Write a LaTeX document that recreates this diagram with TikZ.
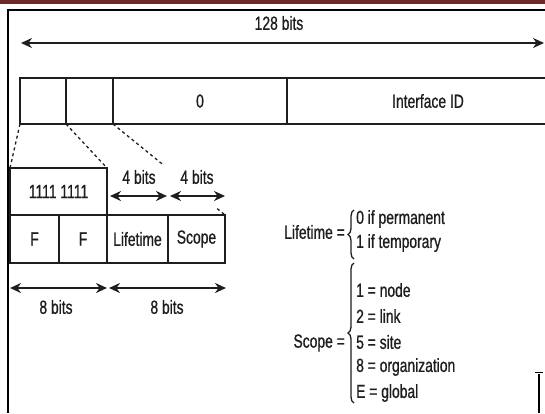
\documentclass[tikz,border=0pt]{standalone}
\usepackage{fontspec}
\setmainfont{Liberation Sans}[FakeStretch=0.73,FakeBold=0.8]
\usetikzlibrary{arrows.meta,decorations.pathreplacing,calc}
\definecolor{band}{HTML}{722828}
\definecolor{ink}{HTML}{1E1E1E}
\begin{document}
\begin{tikzpicture}[x=1pt,y=-1pt,
  txt/.style={font=\fontsize{19}{21}\selectfont, inner sep=0pt, text=ink},
  cell/.style={draw=ink, line width=1.3pt, inner sep=0pt, outer sep=0pt, anchor=north west,
               font=\fontsize{19}{21}\selectfont, text=ink},
  dim/.style={{Stealth[length=11pt,width=10pt]}-{Stealth[length=11pt,width=10pt]}, line width=1.8pt, draw=ink},
  conn/.style={draw=ink, line width=1.3pt, dash pattern=on 3pt off 3pt},
  brc/.style={draw=ink, line width=1.3pt, decorate, decoration={brace, amplitude=6pt}}]
\useasboundingbox (0,0) rectangle (545,413);
\fill[white] (0,0) rectangle (545,413);
% top band and frame
\fill[band] (0,0) rectangle (545,3.5);
\draw[line width=2pt, black] (8,413) -- (8,10) -- (545,10);
% 128 bits
\node[txt] (t128) at (279,23) {128 bits};
\coordinate (al) at (21,43);
\coordinate (ar) at (544,43);
\draw[dim] (al) -- (ar);
% address bar
\node[cell, minimum width=46pt, minimum height=46pt] (s1) at (20,78) {};
\node[cell, minimum width=47pt, minimum height=46pt] (s2) at (66,78) {};
\node[cell, minimum width=174pt, minimum height=46pt] (s0) at (113,78) {0};
\node[cell, minimum width=282pt, minimum height=46pt] (sid) at (287,78) {Interface ID};
\draw[line width=2.5pt, ink] (s1.south west) -- (sid.south east);
% expanded fields
\node[cell, minimum width=97pt, minimum height=47pt] (ones) at (10,168) {1111 1111};
\node[cell, minimum width=49pt, minimum height=48pt] (f1) at (10,215) {F};
\node[cell, minimum width=48pt, minimum height=48pt] (f2) at (59,215) {F};
\node[cell, minimum width=61pt, minimum height=48pt] (lt) at (107,215) {Lifetime};
\node[cell, minimum width=57pt, minimum height=48pt] (sc) at (168,215) {Scope};
% dashed connectors
\draw[conn] (s1.south west) -- (ones.north west);
\draw[conn] (s2.south west) -- (ones.north east);
\draw[conn] (s0.south west) -- ($(s0.south west)!0.45!(sc.north east)$);
\draw[conn] ($(s0.south west)!0.93!(sc.north east)$) -- (sc.north east);
% 4 bits
\node[txt] (b4a) at (139,177) {4 bits};
\node[txt] (b4b) at (197,177) {4 bits};
\coordinate (a4l) at (110,196);
\coordinate (a4m) at (167,196);
\coordinate (a4n) at (170,196);
\coordinate (a4r) at (225,196);
\draw[dim] (a4l) -- (a4m);
\draw[dim] (a4n) -- (a4r);
% 8 bits
\coordinate (a8l) at (10,288);
\coordinate (a8m) at (107,288);
\coordinate (a8n) at (109,288);
\coordinate (a8r) at (226,288);
\draw[dim] (a8l) -- (a8m);
\draw[dim] (a8n) -- (a8r);
\node[txt] (b8a) at (56,307) {8 bits};
\node[txt] (b8b) at (167,307) {8 bits};
% Lifetime legend
\node[txt, anchor=east] (ltl) at (345,232) {Lifetime =};
\coordinate (lb1) at (354,259);
\coordinate (lb2) at (354,210);
\draw[brc] (lb1) -- (lb2);
\node[txt, anchor=west] (lt0) at (356,219) {0 if permanent};
\node[txt, anchor=west] (lt1) at (356,243) {1 if temporary};
% Scope legend
\node[txt, anchor=east] (scl) at (345,343) {Scope =};
\coordinate (sb1) at (354,403);
\coordinate (sb2) at (354,263);
\draw[brc] (sb1) -- (sb2);
\node[txt, anchor=west] (sv1) at (356,290) {1 = node};
\node[txt, anchor=west] (sv2) at (356,316) {2 = link};
\node[txt, anchor=west] (sv5) at (356,342) {5 = site};
\node[txt, anchor=west] (sv8) at (356,367) {8 = organization};
\node[txt, anchor=west] (svE) at (356,393) {E = global};
% cropped fragment at lower right
\draw[line width=2.2pt, black] (539,374) -- (539,413);
\draw[line width=1pt, black] (535,372) -- (543,372);
\end{tikzpicture}
\end{document}
